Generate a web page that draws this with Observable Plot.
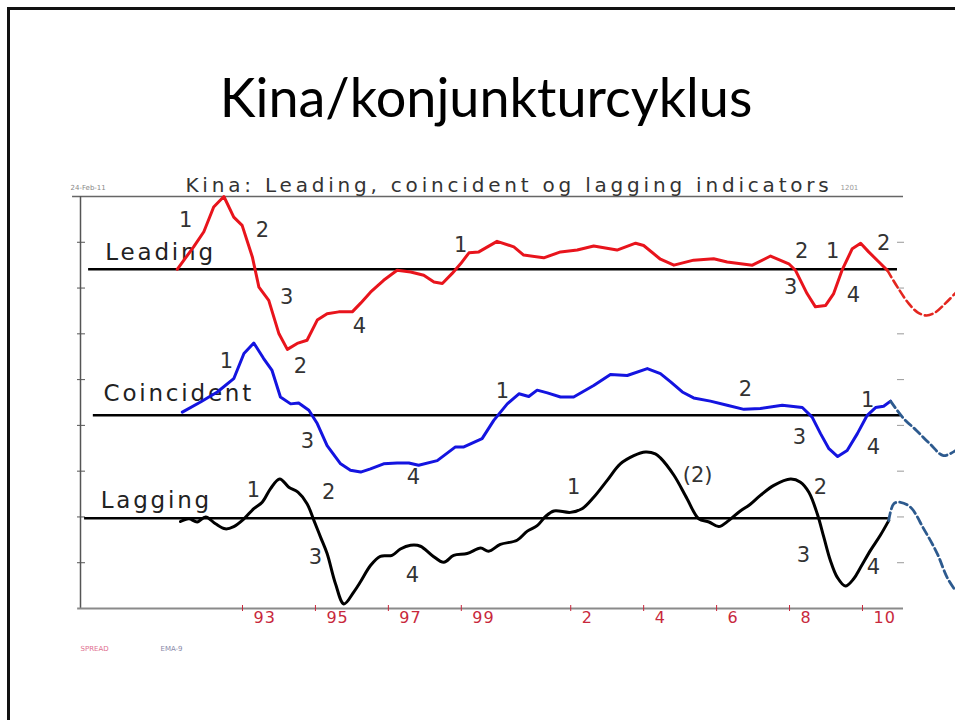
<!DOCTYPE html>
<html>
<head>
<meta charset="utf-8">
<script src="https://cdn.jsdelivr.net/npm/d3@7"></script>
<script src="https://cdn.jsdelivr.net/npm/@observablehq/plot@0.6"></script>
<style>
html, body { margin: 0; padding: 0; background: #fff; }
#slide { position: relative; width: 955px; height: 720px; overflow: hidden; background: #fff; }
#border { position: absolute; left: 7px; top: 7px; width: 1000px; height: 800px; border-left: 3px solid #111; border-top: 3px solid #111; }
#title { position: absolute; left: 0; top: 70px; width: 972px; text-align: center; font-family: Lato, "Open Sans", sans-serif; font-size: 54px; line-height: 54px; color: #000; }
#chart { position: absolute; left: 0; top: 150px; }
#chart g[aria-label="x-axis tick label"] text { letter-spacing: 1px; }
</style>
</head>
<body>
<div id="slide">
  <div id="border"></div>
  <div id="title">Kina/konjunkturcyklus</div>
  <div id="chart"></div>
</div>
<script>
// ---- data (years on x, index level on y) ----
const leadingYears = [1991.21,1991.66,1991.94,1992.21,1992.49,1992.76,1992.99,1993.27,1993.45,1993.72,1994.00,1994.23,1994.50,1994.77,1995.05,1995.32,1995.64,1996.01,1996.24,1996.51,1996.87,1997.24,1997.61,1997.97,1998.25,1998.48,1998.75,1998.98,1999.21,1999.48,1999.98,2000.44,2000.71,2001.26,2001.72,2002.18,2002.63,2003.27,2003.78,2004.00,2004.46,2004.83,2005.37,2005.92,2006.29,2006.98,2007.48,2007.98,2008.16,2008.48,2008.71,2008.99,2009.21,2009.44,2009.72,2009.95,2010.17,2010.68];
const leadingValues = [7.41,7.90,8.23,8.77,9.00,8.55,8.37,7.68,7.02,6.73,6.00,5.66,5.79,5.86,6.30,6.44,6.48,6.48,6.67,6.91,7.17,7.39,7.35,7.28,7.13,7.10,7.32,7.53,7.77,7.79,8.02,7.90,7.72,7.66,7.79,7.83,7.92,7.83,7.98,7.93,7.63,7.50,7.61,7.64,7.57,7.50,7.70,7.53,7.39,6.88,6.59,6.62,6.88,7.39,7.86,7.98,7.79,7.39];
const leadingForecastYears = [2010.68,2010.96,2011.26,2011.51,2011.76,2012.00,2012.28,2012.55];
const leadingForecastValues = [7.39,7.02,6.67,6.47,6.40,6.47,6.67,6.89];

const coincidentYears = [1991.35,1991.85,1992.31,1992.76,1993.04,1993.31,1993.58,1993.81,1994.04,1994.32,1994.54,1994.82,1995.05,1995.32,1995.69,1995.96,1996.24,1996.51,1996.87,1997.24,1997.56,1997.83,1998.34,1998.84,1999.07,1999.57,1999.89,2000.26,2000.58,2000.85,2001.08,2001.36,2001.72,2002.08,2002.63,2003.09,2003.55,2004.10,2004.46,2004.74,2005.06,2005.37,2005.83,2006.29,2006.75,2007.20,2007.80,2008.35,2008.62,2008.85,2009.08,2009.32,2009.58,2009.86,2010.13,2010.36,2010.58,2010.77];
const coincidentValues = [4.29,4.51,4.73,5.02,5.57,5.80,5.46,5.20,4.62,4.47,4.49,4.33,4.04,3.56,3.16,3.02,2.98,3.05,3.16,3.18,3.18,3.13,3.23,3.53,3.53,3.71,4.11,4.47,4.69,4.63,4.77,4.71,4.62,4.62,4.87,5.11,5.09,5.24,5.13,4.95,4.73,4.60,4.53,4.44,4.35,4.37,4.44,4.39,4.18,3.82,3.49,3.32,3.45,3.82,4.22,4.39,4.42,4.53];
const coincidentForecastYears = [2010.77,2011.13,2011.48,2011.87,2012.22,2012.55];
const coincidentForecastValues = [4.53,4.15,3.89,3.58,3.34,3.45];

const laggingYears = [1991.30,1991.53,1991.76,1991.99,1992.26,1992.53,1992.76,1993.04,1993.31,1993.54,1993.77,1994.02,1994.27,1994.52,1994.77,1994.96,1995.14,1995.32,1995.55,1995.78,1996.05,1996.24,1996.51,1996.78,1997.10,1997.33,1997.61,1997.88,1998.20,1998.52,1998.79,1999.16,1999.53,1999.75,2000.07,2000.53,2000.81,2001.08,2001.31,2001.54,2001.99,2002.31,2002.63,2003.00,2003.36,2003.73,2004.05,2004.32,2004.46,2004.83,2005.19,2005.51,2005.79,2006.06,2006.33,2006.65,2006.88,2007.20,2007.57,2008.03,2008.30,2008.53,2008.76,2008.94,2009.12,2009.31,2009.53,2009.76,2009.95,2010.22,2010.49,2010.72];
const laggingValues = [1.90,1.96,1.89,2.00,1.85,1.74,1.79,1.96,2.18,2.32,2.62,2.83,2.65,2.54,2.29,1.92,1.56,1.20,0.54,0.10,0.36,0.59,0.94,1.14,1.16,1.30,1.38,1.36,1.16,1.01,1.16,1.20,1.32,1.25,1.40,1.49,1.69,1.81,2.01,2.13,2.10,2.18,2.43,2.80,3.16,3.34,3.42,3.38,3.29,2.91,2.40,1.96,1.89,1.79,1.92,2.13,2.25,2.47,2.69,2.83,2.76,2.54,2.07,1.56,1.05,0.68,0.49,0.65,0.90,1.27,1.60,1.92];
const laggingForecastYears = [2010.72,2010.86,2011.04,2011.32,2011.68,2012.05,2012.32,2012.55];
const laggingForecastValues = [1.92,2.29,2.32,2.21,1.74,1.20,0.68,0.39];

// series reference lines and names
const seriesNames = ["Leading", "Coincident", "Lagging"];
const seriesLabelYears = [1989.24, 1989.19, 1989.11];
const seriesLabelValues = [7.78, 4.70, 2.36];
const baselineValues = [7.41, 4.22, 1.97];
const baselineStart = [1988.78, 1988.91, 1988.67];
const baselineEnd = [2010.96, 2011.04, 2010.71];

// cycle phase annotations
const noteLabels = ["1","2","3","2","4","1","2","1","2","3","4",
                    "1","3","4","1","2","3","1","4",
                    "1","2","3","4","1","(2)","2","3","4"];
const noteYears = [1991.44,1993.55,1994.21,1994.59,1996.21,1998.98,2008.33,2009.18,2010.58,2008.03,2009.75,
                   1992.56,1994.78,1997.69,2000.13,2006.79,2008.27,2010.14,2010.30,
                   1993.30,1995.36,1995.00,1997.66,2002.08,2005.48,2008.85,2008.38,2010.30];
const noteValues = [8.48,8.26,6.80,5.29,6.16,7.93,7.80,7.80,7.98,7.02,6.84,
                    5.40,3.65,2.86,4.74,4.79,3.74,4.55,3.52,
                    2.58,2.54,1.11,0.72,2.64,2.91,2.64,1.16,0.90];

// axes and headings
const xTickYears = [1993, 1995, 1997, 1999, 2002, 2004, 2006, 2008, 2010];
const xTickLabels = ["93", "95", "97", "99", "2", "4", "6", "8", "10"];
const yTicks = [1, 2, 3, 4, 5, 6, 7, 8];
const xDomain = [1988.558, 2011.125];
const chartTitle = "Kina: Leading, coincident og lagging indicators";

const red = "#c8283c";
const noteFont = "DejaVu Sans, Verdana, sans-serif";

const chart = Plot.plot({
  width: 955,
  height: 570,
  marginLeft: 80,
  marginRight: 52,
  marginTop: 46,
  marginBottom: 112,
  style: { background: "transparent", fontFamily: noteFont, overflow: "visible" },
  x: { domain: xDomain, label: null },
  y: { domain: [0, 9], label: null },
  marks: [
    // frame pieces
    Plot.ruleY([9], { x1: 1988.34, x2: xDomain[1], stroke: "#666", strokeWidth: 1.5 }),
    Plot.ruleX([xDomain[0]], { y1: 0, y2: 9, stroke: "#555", strokeWidth: 1.5 }),
    Plot.ruleY([0], { x1: 1988.48, x2: xDomain[1], stroke: "#8a8a8a", strokeWidth: 2 }),
    Plot.axisY({ anchor: "left", ticks: yTicks, tickSize: 8, dx: 5, tickFormat: () => "", stroke: "#555", label: null }),
    Plot.axisY({ anchor: "right", ticks: yTicks, tickSize: 7, dx: -7, tickFormat: () => "", stroke: "#999", label: null }),
    Plot.axisX({ ticks: xTickYears, tickSize: 6, dy: -3, tickFormat: () => "", stroke: red, label: null }),
    Plot.axisX({ ticks: xTickYears, tickSize: 0, tickPadding: 3, tickFormat: d => xTickLabels[xTickYears.indexOf(d)], textAnchor: "start", dx: 11, fill: red, fontSize: 16, label: null }),

    // chart heading and meta labels
    Plot.text([chartTitle], { frameAnchor: "top", dx: 17, dy: -11, lineAnchor: "middle", fontSize: 20, fill: "#333" }),
    Plot.text(["24-Feb-11"], { frameAnchor: "top-left", dx: -10, dy: -9, textAnchor: "start", lineAnchor: "middle", fontSize: 7, fill: "#888" }),
    Plot.text(["1201"], { frameAnchor: "top-right", dx: -63, dy: -9, textAnchor: "start", lineAnchor: "middle", fontSize: 7, fill: "#999" }),
    Plot.text(["SPREAD"], { frameAnchor: "bottom-left", dx: 0, dy: 40, textAnchor: "start", lineAnchor: "middle", fontSize: 7, fill: "#e07090" }),
    Plot.text(["EMA-9"], { frameAnchor: "bottom-left", dx: 80, dy: 40, textAnchor: "start", lineAnchor: "middle", fontSize: 7, fill: "#8888a8" }),

    // baselines
    Plot.ruleY(baselineValues, { x1: baselineStart, x2: baselineEnd, stroke: "#000", strokeWidth: 2.5 }),

    // series names
    Plot.text(seriesNames, { x: seriesLabelYears, y: seriesLabelValues, text: seriesNames, textAnchor: "start", fontSize: 23, fill: "#222" }),

    // series lines
    Plot.line(leadingValues, { x: leadingYears, y: leadingValues, stroke: "#e8141c", strokeWidth: 3, strokeLinejoin: "round" }),
    Plot.line(coincidentValues, { x: coincidentYears, y: coincidentValues, stroke: "#1414e0", strokeWidth: 3, strokeLinejoin: "round" }),
    Plot.line(laggingValues, { x: laggingYears, y: laggingValues, stroke: "#000", strokeWidth: 3, strokeLinejoin: "round", curve: "catmull-rom" }),

    // forecast extensions
    Plot.line(leadingForecastValues, { x: leadingForecastYears, y: leadingForecastValues, stroke: "#e3261f", strokeWidth: 2.6, strokeDasharray: "8,4", curve: "catmull-rom" }),
    Plot.line(coincidentForecastValues, { x: coincidentForecastYears, y: coincidentForecastValues, stroke: "#2d5a8e", strokeWidth: 2.8, strokeDasharray: "8,4", curve: "catmull-rom" }),
    Plot.line(laggingForecastValues, { x: laggingForecastYears, y: laggingForecastValues, stroke: "#2d5a8e", strokeWidth: 2.8, strokeDasharray: "8,4", curve: "catmull-rom" }),

    // phase numbers
    Plot.text(noteLabels, { x: noteYears, y: noteValues, text: noteLabels, fontSize: 21, fill: "#333" })
  ]
});

// widen the geometric-style headings to match the original's letter width
d3.select(chart).selectAll("text")
  .filter(function () { return seriesNames.includes(this.textContent); })
  .style("letter-spacing", "2.8px");
d3.select(chart).selectAll("text")
  .filter(function () { return this.textContent === chartTitle; })
  .style("letter-spacing", "3.8px");

document.getElementById("chart").appendChild(chart);
</script>
</body>
</html>
